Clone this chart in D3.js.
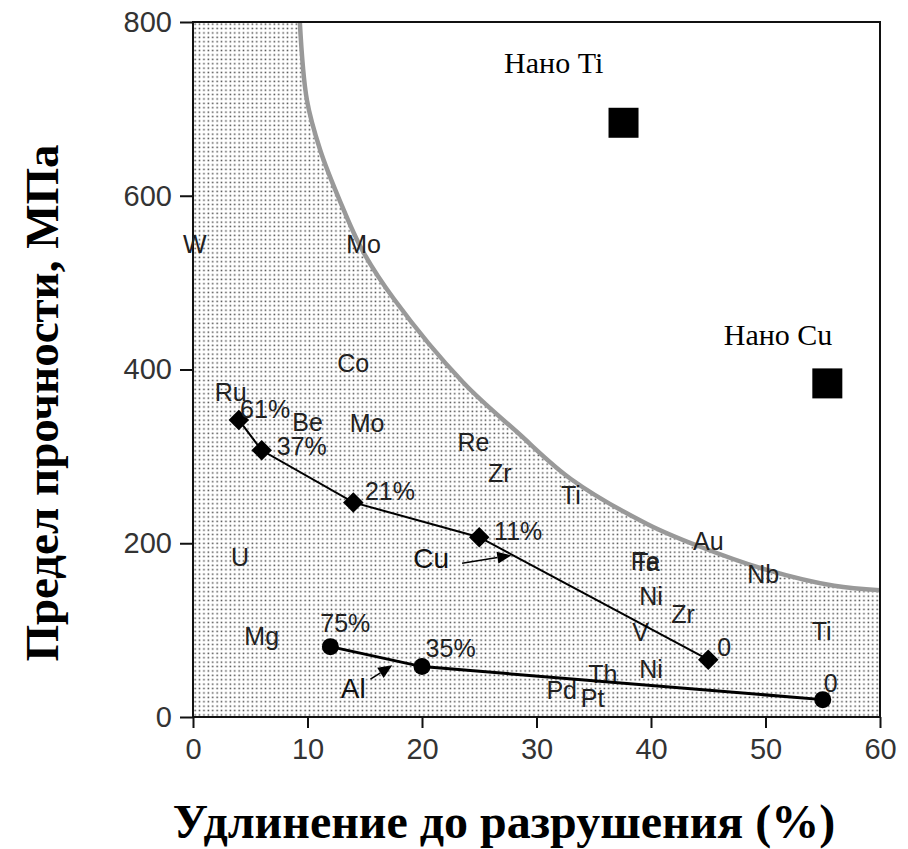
<!DOCTYPE html>
<html>
<head>
<meta charset="utf-8">
<script src="https://cdn.jsdelivr.net/npm/d3@7"></script>
<style>
  body { margin: 0; background: #fff; }
</style>
</head>
<body>
<svg id="chart"></svg>
<script>
// ---- data ----
var xTicks = [0, 10, 20, 30, 40, 50, 60];
var yTicks = [0, 200, 400, 600, 800];

// boundary curve (elongation %, strength MPa)
var curveX = [9.33, 9.95, 11.1, 12.8, 14.8, 17.5, 23.6, 28.3, 33.0, 39.7, 44.3, 50.2, 56.0, 60];
var curveY = [800, 710, 653, 595, 537, 482, 385, 328, 274, 222, 196, 169, 151, 146];

// Cu series (diamonds)
var cuX = [4, 6, 14, 25, 45];
var cuY = [342, 307, 247, 207, 66];
var cuLabels = ["61%", "37%", "21%", "11%", "0"];
var cuLabelX = [6.3, 9.5, 17.2, 28.4, 46.4];
var cuLabelY = [355, 312, 260, 214, 81];

// Al series (circles)
var alX = [12, 20, 55];
var alY = [81, 58, 20];
var alLabels = ["75%", "35%", "0"];
var alLabelX = [13.3, 22.5, 55.7];
var alLabelY = [108, 80, 39];

// nano materials (squares)
var nanoNames = ["Нано Ti", "Нано Cu"];
var nanoX = [37.6, 55.4];
var nanoY = [684, 384];
var nanoLabelX = [31.5, 51.1];
var nanoLabelY = [753, 440];

// element labels
var elemNames = ["W", "Mo", "Co", "Mo", "Re", "Zr", "Ti", "Ru", "Be", "U", "Au", "Fe", "Ta", "Nb",
                 "Ni", "Zr", "V", "Ti", "Mg", "Ni", "Th", "Pd", "Pt"];
var elemX = [0.15, 14.9, 14.0, 15.2, 24.5, 26.8, 33.0, 3.3, 10.0, 4.1, 45.0, 39.5, 39.6, 49.8,
             40.0, 42.8, 39.1, 54.9, 6.0, 40.0, 35.8, 32.2, 34.9];
var elemY = [545, 545, 408, 338, 316, 281, 255, 374, 339, 184, 203, 179, 178, 165,
             139, 118, 98, 99, 93, 55, 50, 31, 22];

// series name callouts with arrows
var calloutNames = ["Cu", "Al"];
var calloutX = [20.8, 14.0];
var calloutY = [183, 33];
var arrowFromX = [23.5, 15.5], arrowFromY = [177, 43.5];
var arrowToX = [27.8, 17.4], arrowToY = [186, 59.5];

// ---- layout ----
var W = 908, H = 849;
var margin = {top: 22, right: 28, bottom: 132, left: 193};
var width = 880 - margin.left,
    height = 717 - margin.top;

var svg = d3.select("#chart").attr("width", W).attr("height", H);
var defs = svg.append("defs");

var pat = defs.append("pattern")
  .attr("id", "dots")
  .attr("patternUnits", "userSpaceOnUse")
  .attr("width", 4.4)
  .attr("height", 4.4);
pat.append("rect").attr("width", 4.4).attr("height", 4.4).attr("fill", "#fff");
pat.append("rect").attr("x", 1.4).attr("y", 1.4).attr("width", 1.5).attr("height", 1.5).attr("fill", "#444");

defs.append("clipPath").attr("id", "plotclip")
  .append("rect").attr("width", width).attr("height", height);

var g = svg.append("g")
  .attr("transform", "translate(" + margin.left + "," + margin.top + ")");

var x = d3.scaleLinear().domain([0, 60]).range([0, width]);
var y = d3.scaleLinear().domain([0, 800]).range([height, 0]);

var curvePts = curveX.map(function(d, i) { return [curveX[i], curveY[i]]; });
var curveLine = d3.line()
  .x(function(d) { return x(d[0]); })
  .y(function(d) { return y(d[1]); })
  .curve(d3.curveCatmullRom);

// shaded region under the boundary
var areaPath = curveLine(curvePts) +
  "L" + x(60) + "," + y(0) + "L" + x(0) + "," + y(0) + "L" + x(0) + "," + y(800) + "Z";
g.append("path")
  .attr("d", areaPath)
  .attr("fill", "url(#dots)")
  .attr("clip-path", "url(#plotclip)");

g.append("path")
  .attr("d", curveLine(curvePts))
  .attr("fill", "none")
  .attr("stroke", "#999")
  .attr("stroke-width", 4.5)
  .attr("clip-path", "url(#plotclip)");

// frame
g.append("rect")
  .attr("width", width).attr("height", height)
  .attr("fill", "none").attr("stroke", "#111").attr("stroke-width", 2);

// axes
var xAxis = g.append("g")
  .attr("transform", "translate(0," + height + ")")
  .call(d3.axisBottom(x).tickValues(xTicks).tickSize(11).tickPadding(10));
var yAxis = g.append("g")
  .call(d3.axisLeft(y).tickValues(yTicks).tickSize(13).tickPadding(8));
[xAxis, yAxis].forEach(function(a) {
  a.select(".domain").remove();
  a.selectAll("line").attr("stroke", "#111").attr("stroke-width", 2);
  a.selectAll("text")
    .style("font-family", "Liberation Sans, Arial, sans-serif")
    .style("font-size", "29px")
    .attr("fill", "#333");
});

// element labels
g.selectAll(".elem")
  .data(elemNames)
  .enter().append("text")
  .attr("x", function(d, i) { return x(elemX[i]); })
  .attr("y", function(d, i) { return y(elemY[i]); })
  .attr("dy", "0.36em")
  .attr("text-anchor", "middle")
  .style("font-family", "Liberation Sans, Arial, sans-serif")
  .style("font-size", "25px")
  .attr("fill", "#222")
  .text(function(d) { return d; });

// Cu series
var cuPts = cuX.map(function(d, i) { return [cuX[i], cuY[i]]; });
g.append("path")
  .attr("d", d3.line().x(function(d) { return x(d[0]); }).y(function(d) { return y(d[1]); })(cuPts))
  .attr("fill", "none").attr("stroke", "#000").attr("stroke-width", 2);
g.selectAll(".cu")
  .data(cuPts)
  .enter().append("path")
  .attr("transform", function(d) { return "translate(" + x(d[0]) + "," + y(d[1]) + ") rotate(45)"; })
  .attr("d", d3.symbol().type(d3.symbolSquare).size(210))
  .attr("fill", "#000");

// Al series
var alPts = alX.map(function(d, i) { return [alX[i], alY[i]]; });
g.append("path")
  .attr("d", d3.line().x(function(d) { return x(d[0]); }).y(function(d) { return y(d[1]); })(alPts))
  .attr("fill", "none").attr("stroke", "#000").attr("stroke-width", 3);
g.selectAll(".al")
  .data(alPts)
  .enter().append("circle")
  .attr("cx", function(d) { return x(d[0]); })
  .attr("cy", function(d) { return y(d[1]); })
  .attr("r", 8.5)
  .attr("fill", "#000");

// percentage labels
function pctLabels(labels, lx, ly) {
  g.selectAll(null)
    .data(labels)
    .enter().append("text")
    .attr("x", function(d, i) { return x(lx[i]); })
    .attr("y", function(d, i) { return y(ly[i]); })
    .attr("dy", "0.36em")
    .attr("text-anchor", "middle")
    .style("font-family", "Liberation Sans, Arial, sans-serif")
    .style("font-size", "25px")
    .attr("fill", "#222")
    .text(function(d) { return d; });
}
pctLabels(cuLabels, cuLabelX, cuLabelY);
pctLabels(alLabels, alLabelX, alLabelY);

// callouts with arrows
g.selectAll(".callout")
  .data(calloutNames)
  .enter().append("text")
  .attr("x", function(d, i) { return x(calloutX[i]); })
  .attr("y", function(d, i) { return y(calloutY[i]); })
  .attr("dy", "0.36em")
  .attr("text-anchor", "middle")
  .style("font-family", "Liberation Sans, Arial, sans-serif")
  .style("font-size", "28px")
  .attr("fill", "#111")
  .text(function(d) { return d; });

calloutNames.forEach(function(n, i) {
  var x1 = x(arrowFromX[i]), y1 = y(arrowFromY[i]);
  var x2 = x(arrowToX[i]), y2 = y(arrowToY[i]);
  var ang = Math.atan2(y2 - y1, x2 - x1);
  var len = 14, wid = 6;
  var bx = x2 - len * Math.cos(ang), by = y2 - len * Math.sin(ang);
  g.append("line")
    .attr("x1", x1).attr("y1", y1).attr("x2", bx).attr("y2", by)
    .attr("stroke", "#000").attr("stroke-width", 1.5);
  g.append("path")
    .attr("d", "M" + x2 + "," + y2 +
      "L" + (bx + wid * Math.sin(ang)) + "," + (by - wid * Math.cos(ang)) +
      "L" + (bx - wid * Math.sin(ang)) + "," + (by + wid * Math.cos(ang)) + "Z")
    .attr("fill", "#000");
});

// nano squares
g.selectAll(".nano")
  .data(nanoNames)
  .enter().append("rect")
  .attr("x", function(d, i) { return x(nanoX[i]) - 15; })
  .attr("y", function(d, i) { return y(nanoY[i]) - 15; })
  .attr("width", 30).attr("height", 30)
  .attr("fill", "#000");
g.selectAll(".nanolabel")
  .data(nanoNames)
  .enter().append("text")
  .attr("x", function(d, i) { return x(nanoLabelX[i]); })
  .attr("y", function(d, i) { return y(nanoLabelY[i]); })
  .attr("dy", "0.35em")
  .attr("text-anchor", "middle")
  .style("font-family", "Liberation Serif, Times New Roman, serif")
  .style("font-size", "30px")
  .attr("fill", "#000")
  .text(function(d) { return d; });

// axis titles
svg.append("text")
  .attr("x", 504).attr("y", 838)
  .attr("text-anchor", "middle")
  .style("font-family", "Liberation Serif, Times New Roman, serif")
  .style("font-weight", "bold")
  .style("font-size", "48px")
  .text("Удлинение до разрушения (%)");

svg.append("text")
  .attr("transform", "translate(58,403) rotate(-90)")
  .attr("text-anchor", "middle")
  .style("font-family", "Liberation Serif, Times New Roman, serif")
  .style("font-weight", "bold")
  .style("font-size", "47px")
  .text("Предел прочности, МПа");
</script>
</body>
</html>
